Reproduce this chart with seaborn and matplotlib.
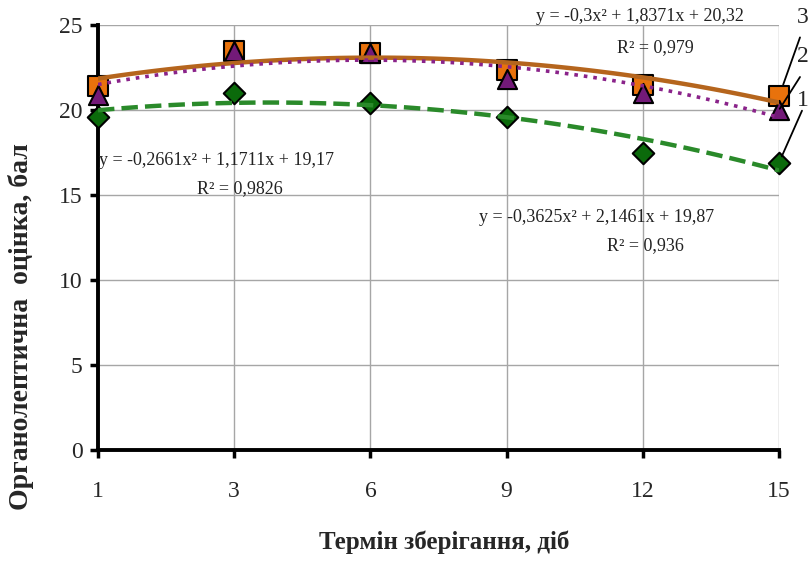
import numpy as np
import pandas as pd
import matplotlib
matplotlib.use("Agg")
import matplotlib.pyplot as plt
import seaborn as sns

# --- data ---
days = ["1", "3", "6", "9", "12", "15"]
pos = [1, 2, 3, 4, 5, 6]            # excel category positions
series_1 = [19.6, 21.0, 20.4, 19.6, 17.5, 16.9]   # green diamonds
series_2 = [20.9, 23.5, 23.35, 21.8, 21.0, 20.0]  # purple triangles
series_3 = [21.4, 23.45, 23.35, 22.35, 21.5, 20.8]  # orange squares

eq_1 = "y = -0,2661x² + 1,1711x + 19,17"
r2_1 = "R² = 0,9826"
eq_2 = "y = -0,3625x² + 2,1461x + 19,87"
r2_2 = "R² = 0,936"
eq_3 = "y = -0,3x² + 1,8371x + 20,32"
r2_3 = "R² = 0,979"

sns.set_style("white")
plt.rcParams['font.family'] = ['Liberation Serif', 'DejaVu Serif']

fig, ax = plt.subplots(figsize=(8.08, 5.62), dpi=100)
fig.subplots_adjust(left=98/808, right=779/808, top=1-25/562, bottom=1-450/562)

df = pd.DataFrame({"pos": pos, "s1": series_1, "s2": series_2, "s3": series_3})

# trend lines (2nd order polynomial, like excel)
sns.regplot(data=df, x="pos", y="s1", order=2, ci=None, scatter=False, ax=ax,
            line_kws=dict(color="#2a8a2a", lw=3.2, ls="--", zorder=4))
sns.regplot(data=df, x="pos", y="s2", order=2, ci=None, scatter=False, ax=ax,
            line_kws=dict(color="#8a238a", lw=2.6, ls=":", zorder=5))
sns.regplot(data=df, x="pos", y="s3", order=2, ci=None, scatter=False, ax=ax,
            line_kws=dict(color="#b5651d", lw=3.2, ls="-", zorder=4))

# markers
sns.scatterplot(data=df, x="pos", y="s3", marker="s", s=190, color="#e8720c",
                edgecolor="black", linewidth=1.5, zorder=3, clip_on=False, ax=ax)
sns.scatterplot(data=df, x="pos", y="s2", marker="^", s=190, color="#731a78",
                edgecolor="black", linewidth=1.5, zorder=3, clip_on=False, ax=ax)
sns.scatterplot(data=df, x="pos", y="s1", marker="D", s=120, color="#0b6a0b",
                edgecolor="black", linewidth=1.5, zorder=3, clip_on=False, ax=ax)

ax.set_xlim(1, 6)
ax.set_ylim(0, 25)
ax.set_xticks(pos)
ax.set_xticklabels(days)
ax.set_yticks(range(0, 26, 5))
ax.grid(True, color="#a6a6a6", lw=1)
ax.set_axisbelow(True)

for s in ["top", "right"]:
    ax.spines[s].set_visible(False)
for s in ["left", "bottom"]:
    ax.spines[s].set_color("black")
    ax.spines[s].set_linewidth(2.8)
    ax.spines[s].set_zorder(2)

ax.tick_params(axis="both", direction="out", length=6, width=2.5, color="black",
               labelsize=17, left=True, bottom=True)
ax.tick_params(axis="x", pad=16)
ax.tick_params(axis="y", pad=5)

ax.set_xlabel("Термін зберігання, діб", fontsize=18, fontweight="bold")
ax.xaxis.set_label_coords(0.508, -0.19)
ax.set_ylabel("Органолептична  оцінка, бал", fontsize=20, fontweight="bold")
ax.yaxis.set_label_coords(-0.094, 0.29)

# equations
tkw = dict(fontsize=13, color="#222222", zorder=6)
ax.text(4.98, 25.5, eq_3, ha="center", va="center", **tkw)
ax.text(5.09, 23.7, r2_3, ha="center", va="center", **tkw)
ax.text(1.01, 17.05, eq_1, ha="left", va="center", **tkw)
ax.text(2.04, 15.35, r2_1, ha="center", va="center", **tkw)
ax.text(4.66, 13.65, eq_2, ha="center", va="center", **tkw)
ax.text(5.02, 12.0, r2_2, ha="center", va="center", **tkw)

# series numbers with leader lines (offsets in pixels from the last marker)
labels = [("3", series_3[-1], (24, 79), (21, 59), 9),
          ("2", series_2[-1], (24, 53), (21, 33), 1),
          ("1", series_1[-1], (24, 62), (23, 52), 5)]
for txt, yv, toff, loff, shr in labels:
    ax.annotate(txt, xy=(6, yv), xytext=toff, textcoords="offset pixels",
                fontsize=17, ha="center", va="center", annotation_clip=False, zorder=7)
    ax.annotate("", xy=(6, yv), xytext=loff, textcoords="offset pixels",
                annotation_clip=False, zorder=7,
                arrowprops=dict(arrowstyle="-", color="black", lw=1.3,
                                shrinkA=0, shrinkB=shr))

plt.savefig("out.png", dpi=100)
